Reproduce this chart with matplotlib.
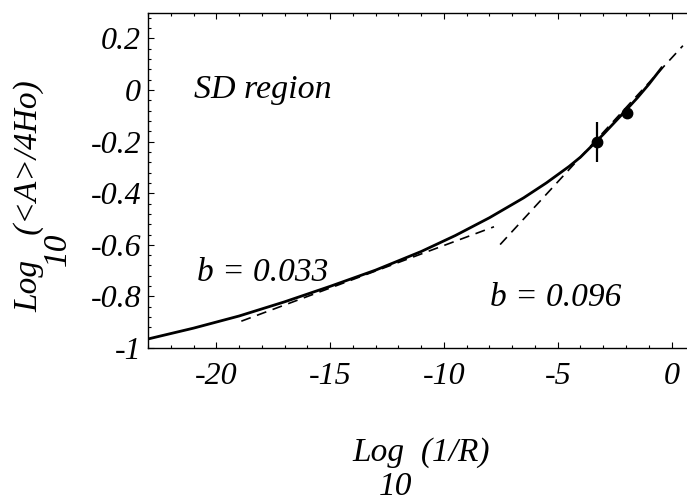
import matplotlib
matplotlib.use('Agg')
import matplotlib.pyplot as plt
from matplotlib.ticker import MultipleLocator, FixedLocator, FixedFormatter

plt.rcParams['font.family'] = ['Liberation Serif', 'DejaVu Serif']
plt.rcParams['font.style'] = 'italic'

# solid curve
curve_x = [-23, -21, -19, -17, -15, -13, -11, -9.5, -8, -6.5, -5.5, -4.5, -4, -3, -2,
           -1.5, -1, -0.4]
curve_y = [-0.965, -0.923, -0.876, -0.821, -0.761, -0.698, -0.626, -0.564, -0.495,
           -0.418, -0.360, -0.296, -0.260, -0.172, -0.078, -0.030, 0.022, 0.090]

# dashed fits
fit1_x = [-18.9, -7.8]
fit1_y = [-0.896, -0.530]
fit2_x = [-7.53, 0.5]
fit2_y = [-0.599, 0.172]

# measured points
pts_x = [-3.27, -1.97]
pts_y = [-0.200, -0.088]
pts_err = [0.077, 0.02]

x_ticks = [-20, -15, -10, -5, 0]
x_ticklabels = ['-20', '-15', '-10', '-5', '0']
y_ticks = [-1, -0.8, -0.6, -0.4, -0.2, 0, 0.2]
y_ticklabels = ['-1', '-0.8', '-0.6', '-0.4', '-0.2', '0', '0.2']

fig = plt.figure(figsize=(6.87, 5.04), dpi=100)
ax = fig.add_axes([148 / 687, 1 - 348 / 504, 1 - 148 / 687, (348 - 12.7) / 504])

ax.plot(fit1_x, fit1_y, color='black', lw=1.2, dashes=(6, 4))
ax.plot(fit2_x, fit2_y, color='black', lw=1.2, dashes=(6, 4))
ax.plot(curve_x, curve_y, color='black', lw=2.0, solid_capstyle='butt',
        solid_joinstyle='round')
ax.errorbar(pts_x, pts_y, yerr=pts_err, fmt='o', color='black', ms=7.5,
            elinewidth=1.6, capsize=0)

ax.set_xlim(-23, 0.68)
ax.set_ylim(-1, 0.3)

ax.spines['right'].set_visible(False)
for s in ['left', 'bottom', 'top']:
    ax.spines[s].set_linewidth(1.0)

ax.xaxis.set_major_locator(FixedLocator(x_ticks))
ax.xaxis.set_major_formatter(FixedFormatter(x_ticklabels))
ax.xaxis.set_minor_locator(MultipleLocator(1))
ax.yaxis.set_major_locator(FixedLocator(y_ticks))
ax.yaxis.set_major_formatter(FixedFormatter(y_ticklabels))
ax.yaxis.set_minor_locator(MultipleLocator(0.04))

ax.tick_params(which='both', direction='in', top=True, right=False,
               labelsize=23, width=0.8)
ax.tick_params(which='major', length=4.5)
ax.tick_params(which='minor', length=2.5)
ax.tick_params(axis='x', which='major', pad=10)
ax.tick_params(axis='y', which='major', pad=5)

ax.text(-21.0, 0.0, 'SD region', fontsize=24.5, va='center', ha='left')
ax.text(-20.83, -0.71, 'b = 0.033', fontsize=24, va='center', ha='left')
ax.text(-7.97, -0.807, 'b = 0.096', fontsize=24, va='center', ha='left')

# axis labels with the base 10 set beneath "Log"
fig.text(421 / 687, 1 - 453 / 504, 'Log  (1/R)', fontsize=24, ha='center', va='center')
fig.text(396 / 687, 1 - 487 / 504, '10', fontsize=24, ha='center', va='center')
fig.text(29 / 687, 1 - 196 / 504, 'Log   (<A>/4Ho)', fontsize=24, ha='center',
         va='center', rotation=90)
fig.text(58 / 687, 1 - 249 / 504, '10', fontsize=24, ha='center', va='center',
         rotation=90)

fig.savefig('out.png', dpi=100)
